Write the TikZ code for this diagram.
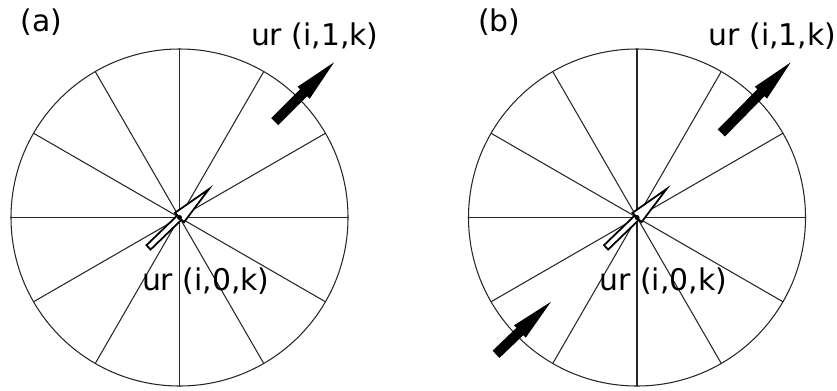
\documentclass[tikz,border=0pt]{standalone}
\usepackage{fontspec}
\setmainfont{DejaVu Sans}

\begin{document}
\begin{tikzpicture}[x=0.02cm,y=0.02cm,line cap=round,line join=round]
\tikzset{
    rim/.style={line width=0.6pt, draw=black!85},
    spoke/.style={line width=0.6pt, draw=black!85},
    hollowarrow/.style={draw=black, fill=white, line width=1pt, line join=miter},
    fatarrow/.style={fill=black},
    lbl/.style={inner sep=0pt, font=\fontsize{17}{20}\selectfont},
}
\useasboundingbox (0,0) rectangle (837,390);
\coordinate (ca) at (179.5,172.5);
\coordinate (cb) at (637,172.5);
% (a)
\draw[rim] (ca) circle (168.5);
\foreach \a in {0,30,...,150}
    \draw[spoke] (ca) ++(\a:168.5) -- ++(\a+180:337);
\begin{scope}[shift={(ca)},rotate=44]
\draw[hollowarrow] (-43,-3) -- (0,-3) -- (0,-6.5) -- (41,0) -- (0,6.5) -- (0,3) -- (-43,3) -- cycle;
\end{scope}
\fill (ca) circle (2.5);
\begin{scope}[shift={(274.7,268.3)},rotate=45]
\fill[fatarrow] (0,-5) -- (41,-5) -- (41,-8.5) -- (84,0) -- (41,8.5) -- (41,5) -- (0,5) -- cycle;
\end{scope}
\node[lbl] (tagA) at (41.2,367.5) {(a)};
\node[lbl] (urA1) at (314.8,354.1) {ur (i,1,k)};
\node[lbl] (urA0) at (205.8,109.1) {ur (i,0,k)};
% (b)
\draw[rim] (cb) circle (168.5);
\foreach \a in {0,30,...,150}
    \draw[spoke] (cb) ++(\a:168.5) -- ++(\a+180:337);
\begin{scope}[shift={(cb)},rotate=44]
\draw[hollowarrow] (-43,-3) -- (0,-3) -- (0,-6.5) -- (41,0) -- (0,6.5) -- (0,3) -- (-43,3) -- cycle;
\end{scope}
\fill (cb) circle (2.5);
\begin{scope}[shift={(721.3,257)},rotate=45.5]
\fill[fatarrow] (0,-5) -- (56.5,-5) -- (56.5,-8.5) -- (99,0) -- (56.5,8.5) -- (56.5,5) -- (0,5) -- cycle;
\end{scope}
\begin{scope}[shift={(496,35.7)},rotate=43.7]
\fill[fatarrow] (0,-5) -- (33,-5) -- (33,-8.5) -- (76,0) -- (33,8.5) -- (33,5) -- (0,5) -- cycle;
\end{scope}
\node[lbl] (tagB) at (499.2,367.5) {(b)};
\node[lbl] (urB1) at (772.5,354.1) {ur (i,1,k)};
\node[lbl] (urB0) at (663.3,109.1) {ur (i,0,k)};
\end{tikzpicture}
\end{document}
